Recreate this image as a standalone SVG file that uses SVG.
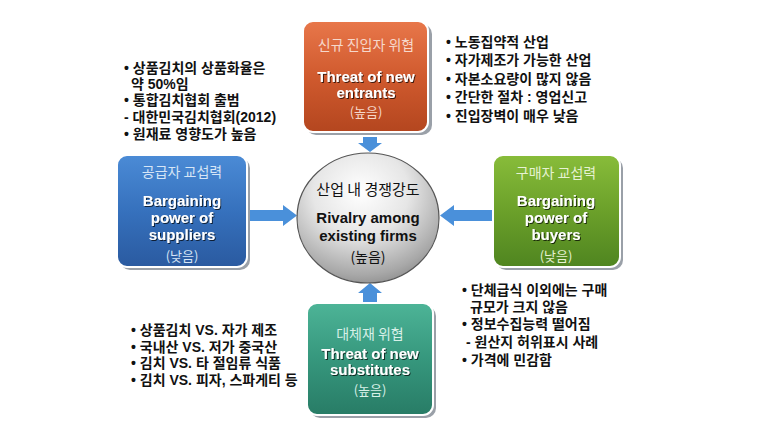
<svg xmlns="http://www.w3.org/2000/svg" width="764" height="429" viewBox="0 0 764 429">
<defs>
<linearGradient id="gOrange" x1="0" y1="0" x2="0" y2="1"><stop offset="0" stop-color="#E8774A"/><stop offset="0.5" stop-color="#D05A2E"/><stop offset="1" stop-color="#B4461F"/></linearGradient>
<linearGradient id="gBlue" x1="0" y1="0" x2="0" y2="1"><stop offset="0" stop-color="#4B8BD6"/><stop offset="0.5" stop-color="#3671BD"/><stop offset="1" stop-color="#2A5AA0"/></linearGradient>
<linearGradient id="gGreen" x1="0" y1="0" x2="0" y2="1"><stop offset="0" stop-color="#88BC3A"/><stop offset="0.5" stop-color="#6BA02A"/><stop offset="1" stop-color="#4F8520"/></linearGradient>
<linearGradient id="gTeal" x1="0" y1="0" x2="0" y2="1"><stop offset="0" stop-color="#4DB497"/><stop offset="0.5" stop-color="#36977D"/><stop offset="1" stop-color="#287C66"/></linearGradient>
<radialGradient id="gCircle" cx="0.45" cy="0.3" r="0.75"><stop offset="0" stop-color="#ffffff"/><stop offset="0.45" stop-color="#e6e6e6"/><stop offset="0.85" stop-color="#a8a8a8"/><stop offset="1" stop-color="#8a8a8a"/></radialGradient>
<filter id="ts" x="-10%" y="-30%" width="120%" height="160%"><feDropShadow dx="1" dy="1" stdDeviation="0.4" flood-color="#000" flood-opacity="0.7"/></filter>
</defs>
<style>
.shadow{fill:#9aa0a8;}
.box{stroke:#ffffff;stroke-width:2;}
.kt{font-family:"Noto Sans CJK KR",sans-serif;font-size:14px;text-anchor:middle;}
.kp{font-family:"Noto Sans CJK KR",sans-serif;font-size:13px;text-anchor:middle;}
.et{font-family:"Liberation Sans","Noto Sans CJK KR",sans-serif;font-size:15px;font-weight:bold;fill:#ffffff;text-anchor:middle;filter:url(#ts);}
.ct{font-family:"Liberation Sans","Noto Sans CJK KR",sans-serif;font-size:15px;font-weight:bold;fill:#111;text-anchor:middle;}
.ck{font-family:"Noto Sans CJK KR",sans-serif;font-size:15px;fill:#111;text-anchor:middle;}
.cp{font-family:"Noto Sans CJK KR",sans-serif;font-size:14px;fill:#111;text-anchor:middle;}
.li{font-family:"Liberation Sans","Noto Sans CJK KR",sans-serif;font-size:14px;font-weight:bold;fill:#111;}
.arrow{fill:#4A90DA;}
</style>
<rect width="764" height="429" fill="#ffffff"/>

<g id="connectors">
<polygon class="arrow" points="363,137 377,137 377,143 382,143 370,152 358,143 363,143"/>
<polygon class="arrow" points="248,210 283,210 283,205 297,215.5 283,226 283,221 248,221"/>
<polygon class="arrow" points="492,210 454,210 454,205 440,215.5 454,226 454,221 492,221"/>
<polygon class="arrow" points="363,302 377,302 377,293 382,293 370,283 358,293 363,293"/>
</g>

<g id="node-entrants">
<rect class="shadow" x="306" y="24" width="126" height="111" rx="10"/>
<rect class="box" x="303" y="21" width="125" height="111" rx="10" fill="url(#gOrange)"/>
<text class="kt" x="366" y="50" fill="#F6D8CB">신규 진입자 위협</text>
<text class="et" x="366" y="82">Threat of new</text>
<text class="et" x="366" y="98">entrants</text>
<text class="kp" x="366" y="117" fill="#F6D8CB">(높음)</text>
</g>

<g id="node-suppliers">
<rect class="shadow" x="120" y="158" width="130" height="112" rx="10"/>
<rect class="box" x="117" y="155" width="130" height="112" rx="10" fill="url(#gBlue)"/>
<text class="kt" x="182" y="177" fill="#D6E5F6">공급자 교섭력</text>
<text class="et" x="182" y="206">Bargaining</text>
<text class="et" x="182" y="223">power of</text>
<text class="et" x="182" y="240">suppliers</text>
<text class="kp" x="182" y="261" fill="#D6E5F6">(낮음)</text>
</g>

<g id="node-buyers">
<rect class="shadow" x="496" y="158" width="127" height="112" rx="10"/>
<rect class="box" x="493" y="155" width="127" height="112" rx="10" fill="url(#gGreen)"/>
<text class="kt" x="556" y="178" fill="#E6F2D2">구매자 교섭력</text>
<text class="et" x="556" y="206">Bargaining</text>
<text class="et" x="556" y="223">power of</text>
<text class="et" x="556" y="240">buyers</text>
<text class="kp" x="556" y="261" fill="#E6F2D2">(낮음)</text>
</g>

<g id="node-substitutes">
<rect class="shadow" x="310" y="306" width="126" height="112" rx="10"/>
<rect class="box" x="307" y="303" width="126" height="112" rx="10" fill="url(#gTeal)"/>
<text class="kt" x="370" y="339" fill="#D8F0E8">대체재 위협</text>
<text class="et" x="370" y="359">Threat of new</text>
<text class="et" x="370" y="375">substitutes</text>
<text class="kp" x="370" y="395" fill="#D8F0E8">(높음)</text>
</g>

<g id="node-rivalry">
<ellipse cx="368" cy="218" rx="71" ry="65" fill="url(#gCircle)" stroke="#555" stroke-width="1.2"/>
<text class="ck" x="368" y="195">산업 내 경쟁강도</text>
<text class="ct" x="368" y="223">Rivalry among</text>
<text class="ct" x="368" y="241">existing firms</text>
<text class="cp" x="368" y="262">(높음)</text>
</g>

<g id="list-entrants">
<text class="li" x="446" y="47">• 노동집약적 산업</text>
<text class="li" x="446" y="65">• 자가제조가 가능한 산업</text>
<text class="li" x="446" y="84">• 자본소요량이 많지 않음</text>
<text class="li" x="446" y="102">• 간단한 절차 : 영업신고</text>
<text class="li" x="446" y="121">• 진입장벽이 매우 낮음</text>
</g>

<g id="list-suppliers">
<text class="li" x="124" y="73">• 상품김치의 상품화율은</text>
<text class="li" x="131" y="89">약 50%임</text>
<text class="li" x="124" y="105">• 통합김치협회 출범</text>
<text class="li" x="124" y="122">- 대한민국김치협회(2012)</text>
<text class="li" x="124" y="139">• 원재료 영향도가 높음</text>
</g>

<g id="list-buyers">
<text class="li" x="462" y="295">• 단체급식 이외에는 구매</text>
<text class="li" x="470" y="312">규모가 크지 않음</text>
<text class="li" x="462" y="329">• 정보수집능력 떨어짐</text>
<text class="li" x="466" y="347">- 원산지 허위표시  사례</text>
<text class="li" x="462" y="365">• 가격에 민감함</text>
</g>

<g id="list-substitutes">
<text class="li" x="131" y="335">• 상품김치 VS. 자가 제조</text>
<text class="li" x="131" y="352">• 국내산  VS. 저가 중국산</text>
<text class="li" x="131" y="368">• 김치 VS. 타 절임류 식품</text>
<text class="li" x="131" y="385">• 김치 VS. 피자, 스파게티 등</text>
</g>
</svg>
